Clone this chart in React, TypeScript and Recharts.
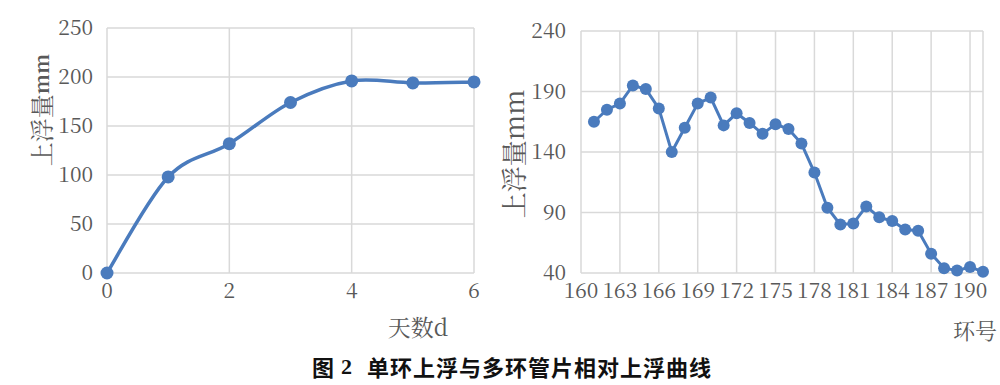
import React from 'react';
import { LineChart, Line, XAxis, YAxis, CartesianGrid } from 'recharts';

const days = [0, 1, 2, 3, 4, 5, 6];
const dayFloat = [0, 98, 132, 174, 196, 194, 195];
const dayTicks = [0, 2, 4, 6];
const dayFloatTicks = [0, 50, 100, 150, 200, 250];

const rings = [161, 162, 163, 164, 165, 166, 167, 168, 169, 170, 171, 172, 173, 174, 175, 176, 177, 178, 179, 180, 181, 182, 183, 184, 185, 186, 187, 188, 189, 190, 191];
const ringFloat = [165, 175, 180, 195, 192, 176, 140, 160, 180, 185, 162, 172, 164, 155, 163, 159, 147, 123, 94, 80, 81, 95, 86, 83, 76, 75, 56, 44, 42, 45, 41];
const ringTicks = [160, 163, 166, 169, 172, 175, 178, 181, 184, 187, 190];
const ringFloatTicks = [40, 90, 140, 190, 240];

const leftData = days.map((d, i) => ({ x: d, y: dayFloat[i] }));
const rightData = rings.map((r, i) => ({ x: r, y: ringFloat[i] }));

const BLUE = '#4a7bbd';
const GRID = '#d9d9d9';
const TXT = '#595959';
const SONG = 'Noto Serif CJK SC';

// Excel-style smoothed line (Catmull-Rom Bezier) as a d3 curve factory
const excelSmooth: any = (context: any) => {
  let pts: number[][] = [];
  return {
    areaStart() {},
    areaEnd() {},
    lineStart() { pts = []; },
    point(x: number, y: number) { pts.push([+x, +y]); },
    lineEnd() {
      if (!pts.length) return;
      context.moveTo(pts[0][0], pts[0][1]);
      for (let i = 0; i < pts.length - 1; i++) {
        const p0 = pts[i - 1] || pts[i];
        const p1 = pts[i];
        const p2 = pts[i + 1];
        const p3 = pts[i + 2] || p2;
        context.bezierCurveTo(
          p1[0] + (p2[0] - p0[0]) / 6, p1[1] + (p2[1] - p0[1]) / 6,
          p2[0] - (p3[0] - p1[0]) / 6, p2[1] - (p3[1] - p1[1]) / 6,
          p2[0], p2[1]
        );
      }
    },
  };
};

const XTick = (props: any) => {
  const { x, y, payload } = props;
  return (
    <text x={x} y={y + 19} textAnchor="middle" fontFamily={SONG} fontSize={21} fill={TXT}>
      {payload.value}
    </text>
  );
};

const YTick = (props: any) => {
  const { x, y, payload } = props;
  return (
    <text x={x} y={y + 7} textAnchor="end" fontFamily={SONG} fontSize={21} fill={TXT}>
      {payload.value}
    </text>
  );
};

export default function App() {
  return (
    <div style={{ position: 'absolute', left: 0, top: 0, width: 1000, height: 385, background: '#fff', overflow: 'hidden' }}>
      <div style={{ position: 'absolute', left: 0, top: 0 }}>
        <LineChart width={500} height={340} data={leftData} margin={{ top: 28, right: 26, left: 0, bottom: 37 }}>
          <CartesianGrid stroke={GRID} strokeWidth={1.5} />
          <XAxis dataKey="x" type="number" domain={[0, 6]} ticks={dayTicks} axisLine={false} tickLine={false} tickSize={6} tickMargin={0} height={30} tick={(p: any) => <XTick {...p} />} interval={0} />
          <YAxis type="number" domain={[0, 250]} ticks={dayFloatTicks} axisLine={false} tickLine={false} tickSize={6} tickMargin={0} width={107} tick={(p: any) => <YTick {...p} x={93} />} interval={0} />
          <Line dataKey="y" type={excelSmooth} stroke={BLUE} strokeWidth={3.5} dot={{ r: 6.5, fill: BLUE, stroke: BLUE, strokeWidth: 0 }} isAnimationActive={false} />
        </LineChart>
      </div>
      <div style={{ position: 'absolute', left: 490, top: 0 }}>
        <LineChart width={510} height={340} data={rightData} margin={{ top: 31, right: 17, left: 0, bottom: 37 }}>
          <CartesianGrid stroke={GRID} strokeWidth={1.5} />
          <XAxis dataKey="x" type="number" domain={[160, 191]} ticks={ringTicks} axisLine={false} tickLine={false} tickSize={6} tickMargin={0} height={30} tick={(p: any) => <XTick {...p} />} interval={0} />
          <YAxis type="number" domain={[40, 240]} ticks={ringFloatTicks} axisLine={false} tickLine={false} tickSize={6} tickMargin={0} width={91} tick={(p: any) => <YTick {...p} x={76} />} interval={0} />
          <Line dataKey="y" type="linear" stroke={BLUE} strokeWidth={3} dot={{ r: 6, fill: BLUE, stroke: BLUE, strokeWidth: 0 }} isAnimationActive={false} />
        </LineChart>
      </div>
      <svg width={1000} height={385} style={{ position: 'absolute', left: 0, top: 0, pointerEvents: 'none' }}>
        <text x={40} y={110} transform="rotate(-90 40 110)" textAnchor="middle" dominantBaseline="central" fontFamily={SONG} fontSize={24} fill={TXT}>上浮量<tspan fontWeight="bold" fontSize={20}>mm</tspan></text>
        <text x={418} y={326} textAnchor="middle" dominantBaseline="central" fontFamily={SONG} fontSize={23} fill={TXT}>天数d</text>
        <text x={512} y={154} transform="rotate(-90 512 154)" textAnchor="middle" dominantBaseline="central" fontFamily={SONG} fontSize={26} fill={TXT}>上浮量mm</text>
        <text x={975} y={329} textAnchor="middle" dominantBaseline="central" fontFamily={SONG} fontSize={22} fill={TXT}>环号</text>
        <text x={512} y={366} textAnchor="middle" dominantBaseline="central" fontFamily="Noto Sans CJK SC" fontSize={22} fontWeight="bold" fill="#111" letterSpacing={1}>
          图 <tspan fontFamily="Liberation Serif">2</tspan><tspan dx={14}>单环上浮与多环管片相对上浮曲线</tspan>
        </text>
      </svg>
    </div>
  );
}
